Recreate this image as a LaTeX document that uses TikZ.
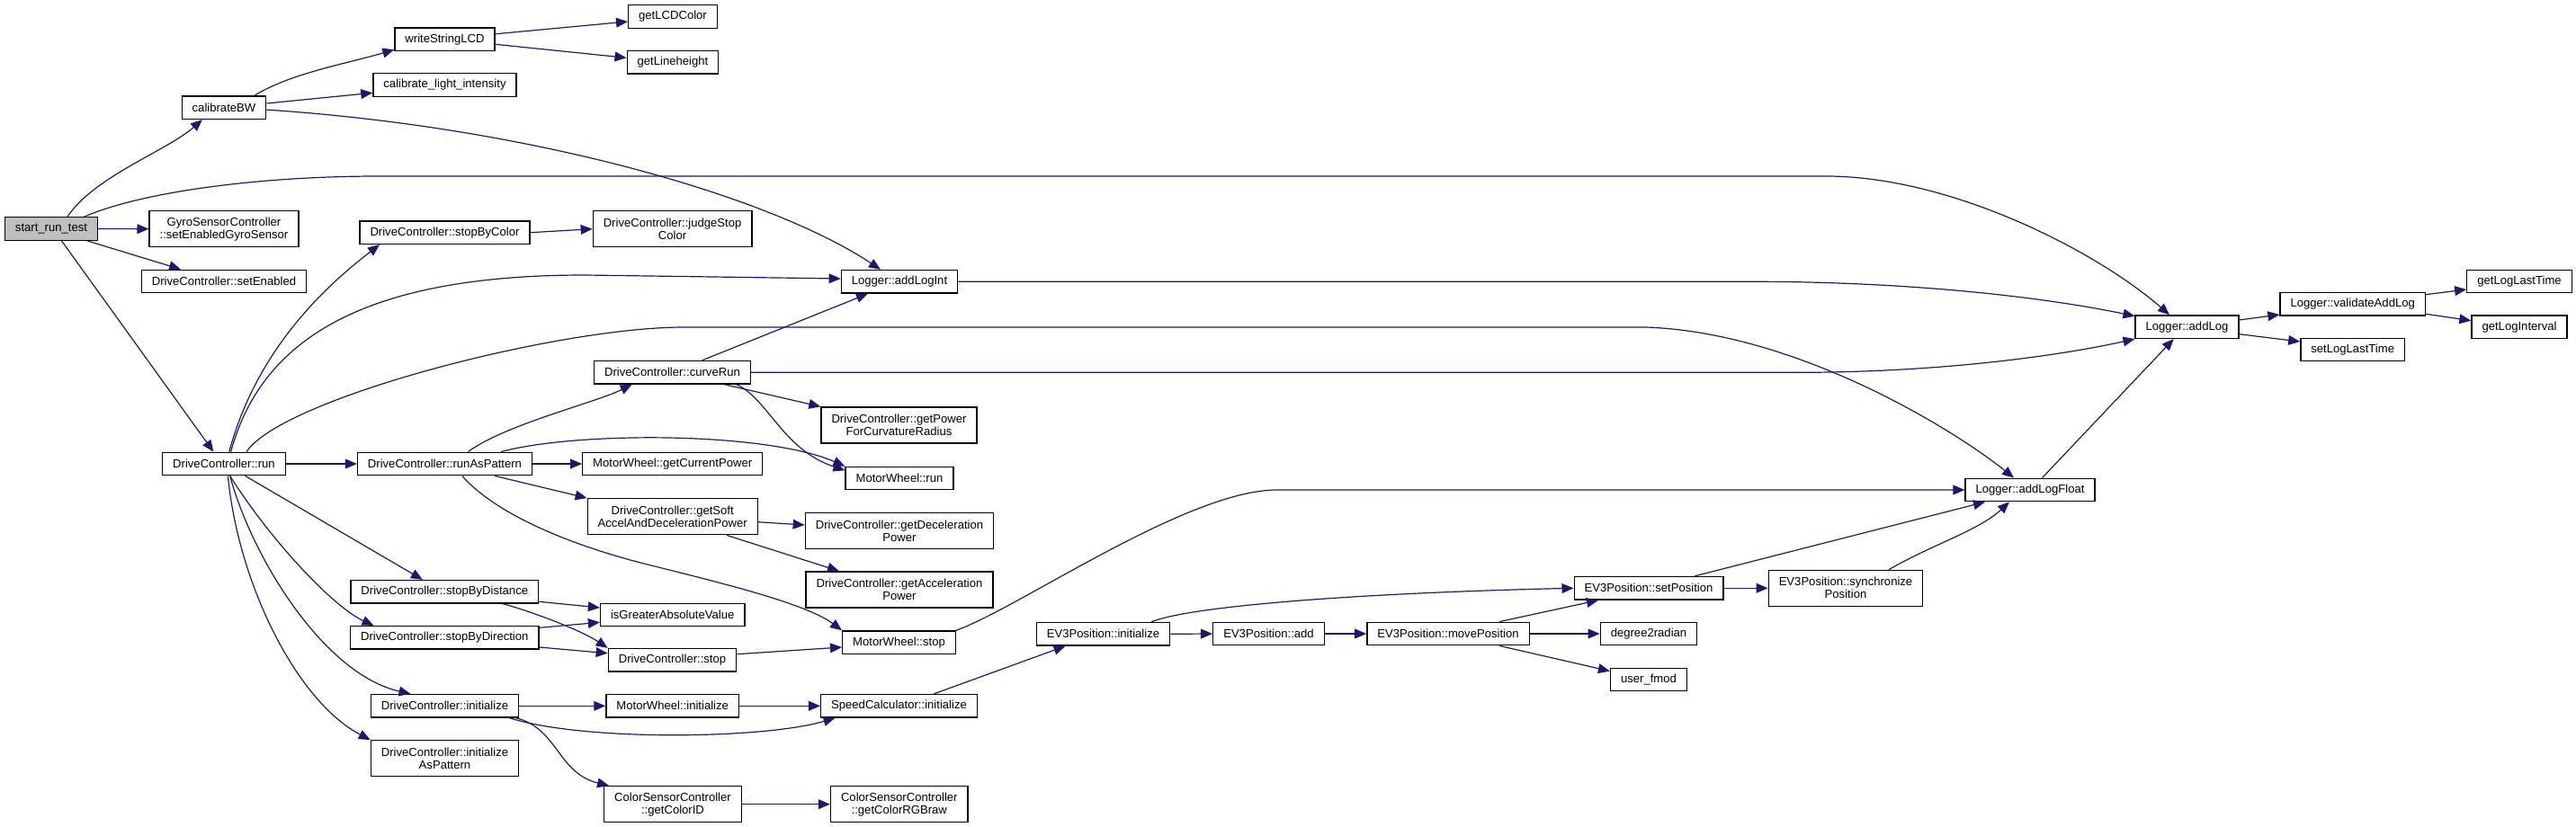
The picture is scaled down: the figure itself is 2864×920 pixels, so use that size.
\documentclass[tikz,border=0pt]{standalone}
\usepackage{fontspec}
\setmainfont{Liberation Sans}
\usetikzlibrary{arrows.meta}
\definecolor{edgeblue}{HTML}{191970}
\definecolor{rootgray}{HTML}{BFBFBF}

\begin{document}
\begin{tikzpicture}[x=0.5pt, y=-0.5pt, every node/.style={font=\fontsize{6.55}{7}\selectfont}]
  \tikzset{fn/.style={draw, fill=white, line width=0.65pt, inner xsep=5.75pt, inner ysep=0pt, minimum height=12.75pt, align=center},
    fn2/.style={fn, minimum height=20pt},
    root/.style={fn, fill=rootgray},
    call/.style={color=edgeblue, line width=0.6pt, -{Triangle[length=6.5pt, width=5.4pt]}}}
  \useasboundingbox (0,0) rectangle (2864,920);

  \node[root] (s) at (57,254.5) {start\_run\_test};
  \node[fn] (cb) at (249,119.7) {calibrateBW};
  \node[fn2] (gyro) at (249,254.7) {GyroSensorController\\::setEnabledGyroSensor};
  \node[fn] (sen) at (249,313) {DriveController::setEnabled};
  \node[fn] (run) at (249,516) {DriveController::run};
  \node[fn] (ws) at (494.5,43.8) {writeStringLCD};
  \node[fn] (cli) at (494.5,94.5) {calibrate\_light\_intensity};
  \node[fn] (sbc) at (494.5,258.7) {DriveController::stopByColor};
  \node[fn] (rap) at (494.5,516) {DriveController::runAsPattern};
  \node[fn] (sbd) at (494.3,658.3) {DriveController::stopByDistance};
  \node[fn] (sbr) at (494.3,709.3) {DriveController::stopByDirection};
  \node[fn] (dci) at (494.5,785.3) {DriveController::initialize};
  \node[fn2] (dcia) at (494.5,843.8) {DriveController::initialize\\AsPattern};
  \node[fn] (lcd) at (748,18.5) {getLCDColor};
  \node[fn] (lh) at (748,69.3) {getLineheight};
  \node[fn2] (jsc) at (747.6,254.7) {DriveController::judgeStop\\Color};
  \node[fn] (cr) at (747.5,414.3) {DriveController::curveRun};
  \node[fn] (gcp) at (747.7,516) {MotorWheel::getCurrentPower};
  \node[fn2] (gs) at (747.7,574.7) {DriveController::getSoft\\AccelAndDecelerationPower};
  \node[fn] (iga) at (747.7,684) {isGreaterAbsoluteValue};
  \node[fn] (dcs) at (747.5,734.3) {DriveController::stop};
  \node[fn] (mwi) at (747.7,785.3) {MotorWheel::initialize};
  \node[fn2] (gcid) at (748,894.7) {ColorSensorController\\::getColorID};
  \node[fn] (ali) at (1000,313.3) {Logger::addLogInt};
  \node[fn2] (gpc) at (999.5,473) {DriveController::getPower\\ForCurvatureRadius};
  \node[fn] (mwr) at (1000,532) {MotorWheel::run};
  \node[fn2] (gdp) at (1000,590.5) {DriveController::getDeceleration\\Power};
  \node[fn2] (gap) at (1000,656) {DriveController::getAcceleration\\Power};
  \node[fn] (mws) at (999.5,714.7) {MotorWheel::stop};
  \node[fn] (sci) at (999.5,785.3) {SpeedCalculator::initialize};
  \node[fn2] (rgb) at (999.8,894.7) {ColorSensorController\\::getColorRGBraw};
  \node[fn] (e3i) at (1226.5,705.3) {EV3Position::initialize};
  \node[fn] (e3a) at (1410.5,705) {EV3Position::add};
  \node[fn] (e3m) at (1610,705) {EV3Position::movePosition};
  \node[fn] (e3s) at (1833,654.3) {EV3Position::setPosition};
  \node[fn] (d2r) at (1833,705) {degree2radian};
  \node[fn] (ufm) at (1833,756) {user\_fmod};
  \node[fn2] (e3y) at (2052,654.3) {EV3Position::synchronize\\Position};
  \node[fn] (alf) at (2257,545) {Logger::addLogFloat};
  \node[fn] (al) at (2431.5,363.7) {Logger::addLog};
  \node[fn] (val) at (2615.7,338.3) {Logger::validateAddLog};
  \node[fn] (slt) at (2615.7,389) {setLogLastTime};
  \node[fn] (glt) at (2801,313) {getLogLastTime};
  \node[fn] (gli) at (2801,363.7) {getLogInterval};

  \draw[call] ([xshift=9pt]s.north) .. controls +(30,-45) and +(-40,35) .. ([xshift=-12pt]cb.south);
  \draw[call] ([xshift=18.3pt]s.north) .. controls +(70,-30) and +(-120,0) .. (420,196) -- (2030,196) .. controls +(140,0) and +(-80,-70) .. ([xshift=-9.75pt]al.north);
  \draw[call] (s.east) -- (gyro.west);
  \draw[call] ([xshift=20pt]s.south) -- ([xshift=-24pt]sen.north);
  \draw[call] ([xshift=5.75pt]s.south) -- ([xshift=-5.8pt]run.north);
  \draw[call] ([xshift=17pt]cb.north) .. controls +(40,-25) and +(-50,15) .. ([yshift=1pt]ws.south west);
  \draw[call] ([yshift=2.35pt]cb.east) -- ([yshift=-4.4pt]cli.west);
  \draw[call] ([yshift=-1.2pt]cb.east) .. controls +(300,20) and +(-120,-80) .. ([xshift=-10.5pt]ali.north);
  \draw[call] ([yshift=3pt]ws.east) -- ([yshift=-2.75pt]lcd.west);
  \draw[call] ([yshift=-2.75pt]ws.east) -- ([yshift=2.5pt]lh.west);
  \draw[call] (sbc.east) -- (jsc.west);
  \draw[call] ([xshift=2.9pt]run.north) .. controls (285,390) and (360,320) .. ([xshift=-36.25pt]sbc.south);
  \draw[call] ([xshift=3.8pt]run.north) .. controls (290,380) and (400,306) .. (650,306) -- ([yshift=1.65pt]ali.west);
  \draw[call] ([xshift=12.5pt]run.north) .. controls (314,443) and (620,364) .. (760,364) -- (1830,364) .. controls (2000,370) and (2175,480) .. ([xshift=-9pt]alf.north);
  \draw[call] (run.east) -- (rap.west);
  \draw[call] ([xshift=11.8pt]run.south) -- ([xshift=-12.2pt]sbd.north);
  \draw[call] ([xshift=3.35pt]run.south) .. controls (300,600) and (370,675) .. ([xshift=-39.4pt]sbr.north);
  \draw[call] ([xshift=3.35pt]run.south) .. controls (280,620) and (360,750) .. ([xshift=-19pt]dci.north);
  \draw[call] ([xshift=2.2pt]run.south) .. controls (265,650) and (330,780) .. (dcia.north west);
  \draw[call] ([xshift=13pt]rap.north) .. controls +(40,-30) and +(-40,20) .. ([xshift=-22.4pt]cr.south);
  \draw[call] ([xshift=31.25pt]rap.north) .. controls (640,480) and (850,480) .. (mwr.north west);
  \draw[call] (rap.east) -- (gcp.west);
  \draw[call] ([xshift=27.75pt]rap.south) -- (gs.north west);
  \draw[call] ([xshift=9.6pt]rap.south) .. controls +(40,45) and +(-80,-20) .. (720,628) .. controls +(80,20) and +(-40,-30) .. (mws.north west);
  \draw[call] ([xshift=16.5pt]cr.north) -- ([xshift=-17.5pt]ali.south);
  \draw[call] (cr.east) -- (2000,414.3) .. controls +(150,0) and +(-90,20) .. (al.south west);
  \draw[call] ([xshift=29pt]cr.south) -- (gpc.north west);
  \draw[call] ([xshift=35.75pt]cr.south) .. controls (855,445) and (870,500) .. ([yshift=4.35pt]mwr.west);
  \draw[call] ([yshift=-3pt]gs.east) -- ([yshift=3.25pt]gdp.west);
  \draw[call] ([xshift=30pt]gs.south) -- ([xshift=-33.5pt]gap.north);
  \draw[call] ([yshift=-5.5pt]sbd.east) -- ([yshift=4pt]iga.west);
  \draw[call] ([xshift=32.5pt]sbd.south) .. controls +(30,8) and +(-30,-20) .. (dcs.north west);
  \draw[call] ([yshift=5.5pt]sbr.east) -- ([yshift=-4.15pt]iga.west);
  \draw[call] ([yshift=-5.35pt]sbr.east) -- ([yshift=3.8pt]dcs.west);
  \draw[call] ([yshift=3.3pt]dcs.east) -- ([yshift=-2.65pt]mws.west);
  \draw[call] (mws.north east) .. controls +(70,-25) and +(-100,0) .. (1420,545) -- (alf.west);
  \draw[call] (dci.east) -- (mwi.west);
  \draw[call] ([xshift=36pt]dci.south) .. controls (650,825) and (850,822) .. ([xshift=-35.5pt]sci.south);
  \draw[call] ([xshift=39.6pt]dci.south) .. controls (620,810) and (620,860) .. ([xshift=3pt]gcid.north west);
  \draw[call] (mwi.east) -- (sci.west);
  \draw[call] ([xshift=19.4pt]sci.north) -- ([xshift=-21pt]e3i.south);
  \draw[call] (gcid.east) -- (rgb.west);
  \draw[call] (e3i.east) -- (e3a.west);
  \draw[call] ([xshift=26.75pt]e3i.north) .. controls (1320,675) and (1500,660) .. (e3s.west);
  \draw[call] (e3a.east) -- (e3m.west);
  \draw[call] ([xshift=28.5pt]e3m.north) -- ([xshift=-28pt]e3s.south);
  \draw[call] (e3m.east) -- (d2r.west);
  \draw[call] ([xshift=28.5pt]e3m.south) -- ([yshift=-2pt]ufm.north west);
  \draw[call] (e3s.east) -- (e3y.west);
  \draw[call] ([xshift=25.5pt]e3s.north) -- ([xshift=-25pt]alf.south);
  \draw[call] ([xshift=24pt]e3y.north) .. controls (2150,605) and (2200,590) .. ([xshift=-11.5pt]alf.south);
  \draw[call] ([xshift=6.75pt]alf.north) -- ([xshift=-7.4pt]al.south);
  \draw[call] (ali.east) -- (1950,313.3) .. controls (2120,313.3) and (2270,330) .. ([yshift=6pt]al.west);
  \draw[call] ([yshift=3.85pt]al.east) -- ([yshift=-5.85pt]val.west);
  \draw[call] ([yshift=-4pt]al.east) -- ([yshift=4.5pt]slt.west);
  \draw[call] ([yshift=5.3pt]val.east) -- ([yshift=-4.5pt]glt.west);
  \draw[call] ([yshift=-5.5pt]val.east) -- ([yshift=3.5pt]gli.west);
\end{tikzpicture}
\end{document}
